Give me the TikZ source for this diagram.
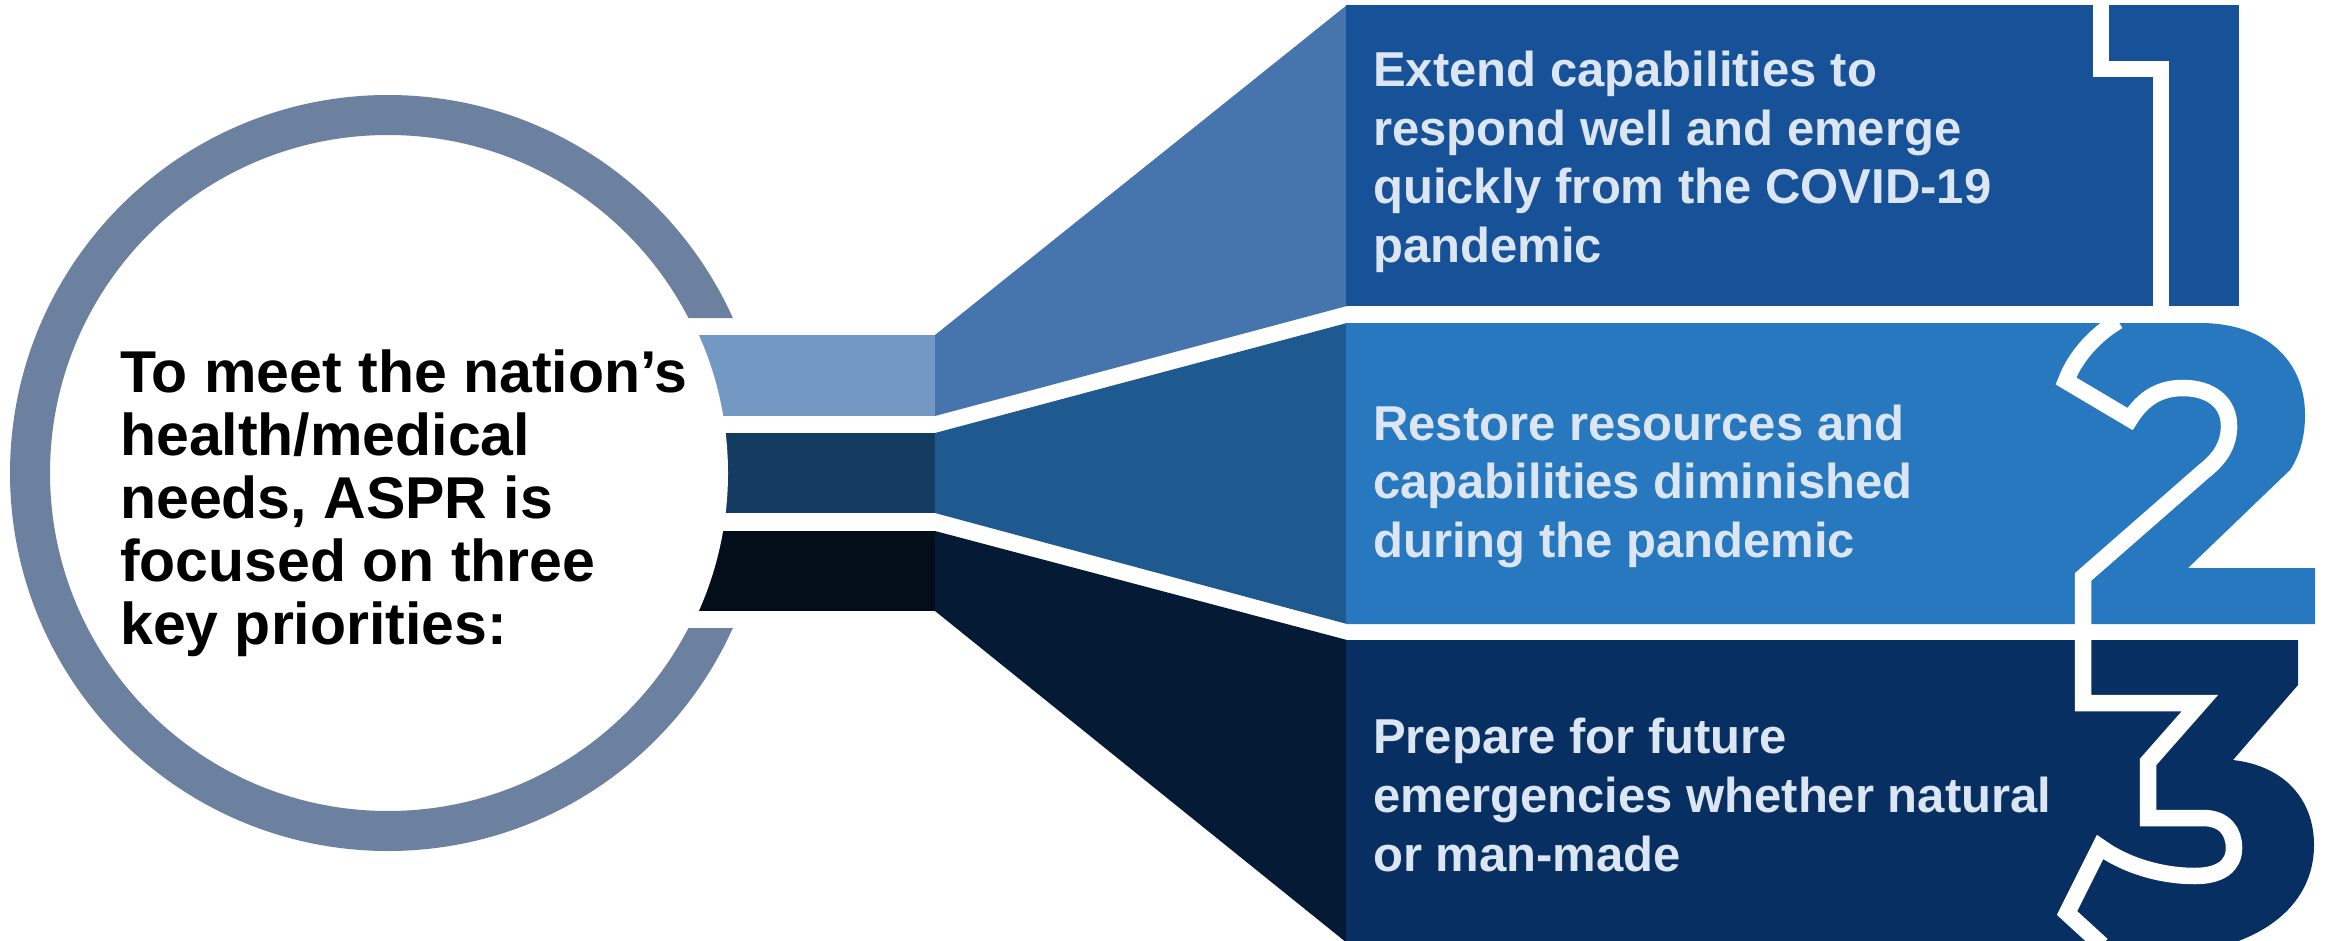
\documentclass[tikz,border=0pt]{standalone}
\usepackage{fontspec}
\setmainfont{Liberation Sans}
\definecolor{ringc}{RGB}{107,129,159}
\definecolor{barA}{RGB}{115,152,196}
\definecolor{trapA}{RGB}{70,117,173}
\definecolor{boxA}{RGB}{23,82,153}
\definecolor{barB}{RGB}{19,60,96}
\definecolor{trapB}{RGB}{30,90,144}
\definecolor{boxB}{RGB}{39,120,190}
\definecolor{barC}{RGB}{4,14,27}
\definecolor{trapC}{RGB}{5,26,52}
\definecolor{boxC}{RGB}{8,47,97}
\definecolor{txtc}{RGB}{220,230,242}
\begin{document}
\begin{tikzpicture}[x=1pt,y=-1pt,
  boxtext/.style={anchor=base west, inner sep=0pt, text=txtc, font=\fontsize{49pt}{58pt}\selectfont\bfseries},
  lefttext/.style={anchor=base west, inner sep=0pt, text=black, font=\fontsize{59pt}{63pt}\selectfont\bfseries},
  numline/.style={draw=white, line width=16.5pt, line join=miter}]
\useasboundingbox (0,0) rectangle (2325,941);
% bars leaving the circle
\fill[barA] (650,335) rectangle (935,416);
\fill[barB] (650,433) rectangle (935,513);
\fill[barC] (650,531) rectangle (935,611);
\fill[white] (388,473) circle[radius=340];
% ring with gap
\begin{scope}
  \clip (0,0) -- (900,0) -- (900,318) -- (600,318) -- (600,628) -- (900,628) -- (900,941) -- (0,941) -- cycle;
  \draw[ringc, line width=40pt] (388,473) circle[radius=358];
\end{scope}
% funnels
\fill[trapA] (935,335) -- (1347,5) -- (1347,306) -- (935,416) -- cycle;
\fill[trapB] (935,433) -- (1347,323) -- (1347,624) -- (935,513) -- cycle;
\fill[trapC] (935,531) -- (1347,640) -- (1347,943) -- (935,611) -- cycle;
% boxes with numbers
\fill[boxA] (1346,5) rectangle (2239,306);
\fill[boxB] (1346,323) -- (2200,323) .. controls (2265,323) and (2305,360) .. (2305,415)
  .. controls (2305,440) and (2298,458) .. (2290,470) -- (2188,568) -- (2315,568) -- (2315,624) -- (1346,624) -- cycle;
\fill[boxC] (1346,640) -- (2298,640) -- (2298,685) -- (2233,760)
  .. controls (2285,766) and (2314,800) .. (2314,845) .. controls (2314,890) and (2285,925) .. (2233,943)
  -- (1346,943) -- cycle;
% white outlines of the numbers
\draw[numline] (2101,3) -- (2101,69) -- (2161,69) -- (2161,308);
\draw[numline] (2118,321) .. controls (2098,333) and (2076,354) .. (2066,381) -- (2130,419)
  .. controls (2143,398) and (2160,388) .. (2183,388) .. controls (2210,388) and (2230,402) .. (2229,428)
  .. controls (2228,448) and (2218,460) .. (2203,472) -- (2083,577) -- (2083,626);
\draw[numline] (2083,638) -- (2083,703) -- (2200,703) -- (2148,762) -- (2148,818) -- (2203,818)
  .. controls (2225,818) and (2234,832) .. (2234,848) .. controls (2234,866) and (2220,876) .. (2195,876)
  .. controls (2160,876) and (2125,865) .. (2100,847) -- (2067,913) -- (2102,945);
% left text
\node[lefttext] (l1) at (120,392) {To meet the nation’s};
\node[lefttext] (l2) at (120,455) {health/medical};
\node[lefttext] (l3) at (120,518) {needs, ASPR is};
\node[lefttext] (l4) at (120,581) {focused on three};
\node[lefttext] (l5) at (120,644) {key priorities:};
% box texts
\node[boxtext] (a1) at (1373,87) {Extend capabilities to};
\node[boxtext] (a2) at (1373,145.5) {respond well and emerge};
\node[boxtext] (a3) at (1373,204) {quickly from the COVID-19};
\node[boxtext] (a4) at (1373,262.5) {pandemic};
\node[boxtext] (b1) at (1373,440) {Restore resources and};
\node[boxtext] (b2) at (1373,498.5) {capabilities diminished};
\node[boxtext] (b3) at (1373,557) {during the pandemic};
\node[boxtext] (c1) at (1373,753) {Prepare for future};
\node[boxtext] (c2) at (1373,812) {emergencies whether natural};
\node[boxtext] (c3) at (1373,871) {or man-made};
\end{tikzpicture}
\end{document}
